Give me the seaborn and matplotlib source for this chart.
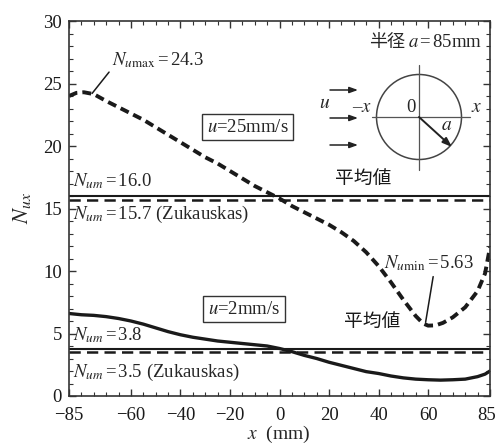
import matplotlib
matplotlib.use("Agg")
import matplotlib.pyplot as plt
from matplotlib.ticker import MultipleLocator, FixedLocator
from matplotlib.transforms import ScaledTranslation
from matplotlib.patches import Circle
import seaborn as sns
import pandas as pd

# Local Nusselt number along the cylinder surface, u = 25 mm/s
x_fast = [-85, -82, -79, -75, -70, -65, -60, -55, -50, -45, -40, -35, -30, -25, -20,
          -15, -10, -5, 0, 5, 10, 15, 20, 25, 30, 35, 40, 45, 50, 55, 58, 60, 63, 66,
          70, 75, 80, 83, 85]
nu_fast = [24.0, 24.25, 24.3, 24.15, 23.6, 23.1, 22.6, 22.1, 21.5, 20.9, 20.3, 19.7,
           19.1, 18.6, 18.0, 17.4, 16.8, 16.3, 15.8, 15.2, 14.7, 14.2, 13.7, 13.1,
           12.4, 11.5, 10.4, 9.1, 7.7, 6.4, 5.8, 5.63, 5.65, 5.85, 6.3, 7.1, 8.4,
           9.8, 11.9]

# Local Nusselt number, u = 2 mm/s
x_slow = [-85, -80, -75, -70, -65, -60, -55, -50, -45, -40, -35, -30, -25, -20, -15,
          -10, -5, 0, 5, 10, 15, 20, 25, 30, 35, 40, 45, 50, 55, 60, 65, 70, 75, 80,
          83, 85]
nu_slow = [6.6, 6.5, 6.45, 6.35, 6.2, 6.0, 5.75, 5.45, 5.15, 4.9, 4.7, 4.55, 4.4,
           4.3, 4.2, 4.1, 4.0, 3.8, 3.55, 3.25, 3.0, 2.7, 2.45, 2.2, 1.95, 1.8, 1.6,
           1.45, 1.35, 1.3, 1.27, 1.3, 1.35, 1.55, 1.75, 2.0]

# Mean values: measured and Zukauskas correlation
mean_fast, zuk_fast = 16.0, 15.7
mean_slow, zuk_slow = 3.8, 3.5
nu_max, nu_min = 24.3, 5.63

x_ticks = [-85, -60, -40, -20, 0, 20, 40, 60, 85]
y_ticks = [0, 5, 10, 15, 20, 25, 30]

sns.set_style("ticks")
plt.rcParams["font.family"] = ["Liberation Serif", "Noto Sans CJK JP", "DejaVu Sans"]
plt.rcParams["mathtext.fontset"] = "stix"

W, H = 498, 445
fig = plt.figure(figsize=(W / 100, H / 100), dpi=100)
L, R, T, B = 69, 490, 21, 396
ax = fig.add_axes([L / W, 1 - B / H, (R - L) / W, (B - T) / H])

df_fast = pd.DataFrame({"x": x_fast, "Nu": nu_fast})
df_slow = pd.DataFrame({"x": x_slow, "Nu": nu_slow})
sns.lineplot(data=df_fast, x="x", y="Nu", ax=ax, color="#1a1a1a", lw=2.8,
             linestyle=(0, (2.3, 1.3)), sort=False)
sns.lineplot(data=df_slow, x="x", y="Nu", ax=ax, color="#1a1a1a", lw=2.4, sort=False)

for m in (mean_fast, mean_slow):
    ax.axhline(m, color="#1a1a1a", lw=1.5)
for z in (zuk_fast, zuk_slow):
    ax.axhline(z, color="#1a1a1a", lw=1.8, linestyle=(0, (4.5, 2.5)))

ax.set_xlim(-85, 85)
ax.set_ylim(0, 30)
ax.xaxis.set_major_locator(FixedLocator(x_ticks))
ax.yaxis.set_major_locator(FixedLocator(y_ticks))
ax.xaxis.set_minor_locator(MultipleLocator(5))
ax.yaxis.set_minor_locator(MultipleLocator(1))
ax.tick_params(which="both", direction="in", top=True, right=True, colors="#333333",
               labelcolor="#1a1a1a", labelsize=13.5)
ax.tick_params(which="major", length=5, width=1)
ax.tick_params(which="minor", length=3, width=0.8)
ax.tick_params(axis="x", pad=8)
ax.tick_params(axis="y", pad=5)
ax.set_xticklabels(["\u2212%d" % -t if t < 0 else str(t) for t in x_ticks])
last = ax.get_xticklabels()[-1]
last.set_transform(last.get_transform() + ScaledTranslation(-2.5 / 72, 0,
                                                            fig.dpi_scale_trans))
for s in ax.spines.values():
    s.set_linewidth(1.2)
    s.set_color("#333333")

ax.set_xlabel("$x$  (mm)", fontsize=14, va="center")
ax.xaxis.set_label_coords((279 - L) / (R - L), -(434 - B) / (B - T))
ax.set_ylabel("$N_{ux}$", fontsize=16, va="center")
ax.yaxis.set_label_coords(-(L - 22) / (R - L), (B - 208) / (B - T))

fs = 13.5
ax.annotate("$N_{u\\mathrm{max}}$$\\,$=$\\,$%.1f" % nu_max, xy=(-75.7, 24.2),
            xytext=(-67.5, 26.9), fontsize=fs, va="center", ha="left",
            arrowprops=dict(arrowstyle="-", color="#1a1a1a", lw=1.1,
                            shrinkA=0, shrinkB=0, relpos=(0.02, 0.2)))
ax.annotate("$N_{u\\mathrm{min}}$$\\,$=$\\,$%.2f" % nu_min, xy=(59.0, 5.9),
            xytext=(42.3, 10.6), fontsize=fs, va="center", ha="left",
            arrowprops=dict(arrowstyle="-", color="#1a1a1a", lw=1.1,
                            shrinkA=0, shrinkB=0, relpos=(0.55, 0.0)))

ax.text(-83.4, 17.2, "$N_{um}$$\\,$=$\\,$%.1f" % mean_fast, fontsize=fs, va="center")
ax.text(-83.4, 14.55, "$N_{um}$$\\,$=$\\,$%.1f (Zukauskas)" % zuk_fast, fontsize=fs,
        va="center")
ax.text(-83.4, 4.9, "$N_{um}$$\\,$=$\\,$%.1f" % mean_slow, fontsize=fs, va="center")
ax.text(-83.4, 1.85, "$N_{um}$$\\,$=$\\,$%.1f (Zukauskas)" % zuk_slow, fontsize=fs,
        va="center")

box = dict(boxstyle="square,pad=0.25", fc="white", ec="#333333", lw=1.0)
ax.text(-12.9, 21.5, "$u$=25mm/s", fontsize=fs, ha="center", va="center", bbox=box)
ax.text(-14.3, 6.95, "$u$=2mm/s", fontsize=fs, ha="center", va="center", bbox=box)

cjk = ["Noto Sans CJK JP", "DejaVu Sans"]
ax.text(33.7, 17.4, "平均値", fontsize=13.5, ha="center", va="center",
        color="#1a1a1a", family=cjk)
ax.text(37.4, 5.95, "平均値", fontsize=13.5, ha="center", va="center",
        color="#1a1a1a", family=cjk)
ax.text(43.6, 28.3, "半径", fontsize=13, ha="center", va="center", family=cjk)
ax.text(52.0, 28.3, "$a\\,$=$\\,$85mm", fontsize=13.5, ha="left", va="center")

# Sketch of the cylinder in cross-flow, laid out in pixel units
x0, x1, y0, y1 = 315, 485, 55, 178
sk = fig.add_axes([x0 / W, 1 - y1 / H, (x1 - x0) / W, (y1 - y0) / H])
sk.set_xlim(x0, x1)
sk.set_ylim(y1, y0)
sk.axis("off")
sk.patch.set_alpha(0)
cx, cy, r = 419, 117, 42.5
sk.add_patch(Circle((cx, cy), r, fill=False, ec="#444444", lw=1.1))
sk.plot([372, 470], [cy, cy], color="#555555", lw=0.9)
sk.plot([cx, cx], [65, 170], color="#555555", lw=0.9)
for ya in (90, 118, 145):
    sk.annotate("", xy=(358, ya), xytext=(330, ya),
                arrowprops=dict(arrowstyle="-|>,head_length=0.5,head_width=0.18",
                                color="#222222", lw=1.1, shrinkA=0, shrinkB=0))
sk.annotate("", xy=(452, 147), xytext=(cx, cy),
            arrowprops=dict(arrowstyle="-|>,head_length=0.55,head_width=0.2",
                            color="#222222", lw=1.4, shrinkA=0, shrinkB=0))
sk.text(325, 104, "$u$", fontsize=14, ha="center", va="center")
sk.text(362, 107, "\u2013$x$", fontsize=13.5, ha="center", va="center")
sk.text(477, 107, "$x$", fontsize=14, ha="center", va="center")
sk.text(411, 108, "0", fontsize=13.5, ha="center", va="center")
sk.text(447, 125, "$a$", fontsize=14, ha="center", va="center")

fig.savefig("out.png", dpi=100)
